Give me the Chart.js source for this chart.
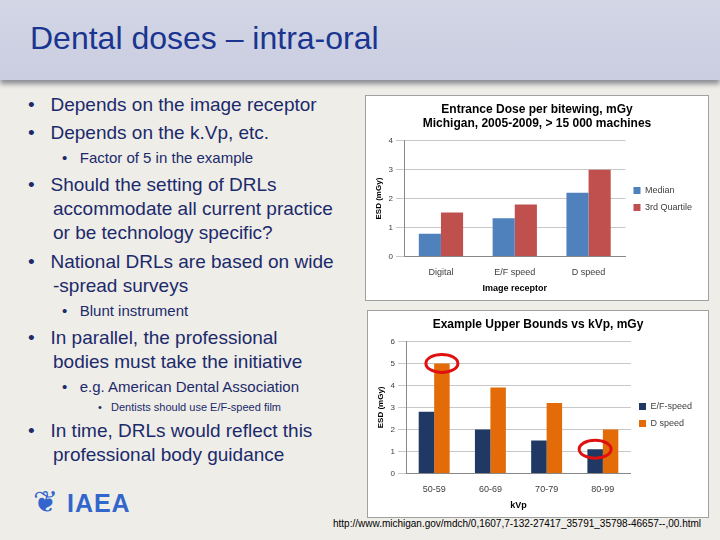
<!DOCTYPE html>
<html>
<head>
<meta charset="utf-8">
<script src="https://cdn.jsdelivr.net/npm/chart.js@4"></script>
<style>
body { margin:0; width:720px; height:540px; overflow:hidden; background:#efede8; font-family:"Liberation Sans", Arial, sans-serif; position:relative; }
#header { position:absolute; left:0; top:0; width:720px; height:80px; background:linear-gradient(#d3d6e5, #c9cde0); box-shadow:0 4px 5px #8a8c94; }
#title { position:absolute; left:30px; top:20px; font-size:32px; color:#1a3590; }
.t { position:absolute; color:#1b2a6b; white-space:nowrap; }
.l1 { font-size:19px; left:53px; }
.l2 { font-size:15px; left:84px; }
.l3 { font-size:11px; left:115px; }
.box { position:absolute; background:#fff; border:1px solid #a0a0a0; }
#logo { position:absolute; left:33px; top:484px; font-size:25px; font-weight:bold; color:#3366cc; letter-spacing:1px; }
#url { position:absolute; left:333px; top:518px; font-size:10px; color:#000; }
</style>
</head>
<body>
<div id="header"></div>
<div id="title">Dental doses – intra-oral</div>

<div class="t l1" style="top:94px;left:28px">•&nbsp;&nbsp;&nbsp;Depends on the image receptor</div>
<div class="t l1" style="top:122px;left:28px">•&nbsp;&nbsp;&nbsp;Depends on the k.Vp, etc.</div>
<div class="t l2" style="top:149px;left:62px">•&nbsp;&nbsp;&nbsp;Factor of 5 in the example</div>
<div class="t l1" style="top:174px;left:28px">•&nbsp;&nbsp;&nbsp;Should the setting of DRLs</div>
<div class="t l1" style="top:198px">accommodate all current practice</div>
<div class="t l1" style="top:222px">or be technology specific?</div>
<div class="t l1" style="top:251px;left:28px">•&nbsp;&nbsp;&nbsp;National DRLs are based on wide</div>
<div class="t l1" style="top:275px">-spread surveys</div>
<div class="t l2" style="top:302px;left:62px">•&nbsp;&nbsp;&nbsp;Blunt instrument</div>
<div class="t l1" style="top:327px;left:28px">•&nbsp;&nbsp;&nbsp;In parallel, the professional</div>
<div class="t l1" style="top:351px">bodies must take the initiative</div>
<div class="t l2" style="top:378px;left:62px">•&nbsp;&nbsp;&nbsp;e.g. American Dental Association</div>
<div class="t l3" style="top:401px;left:98px">•&nbsp;&nbsp;&nbsp;Dentists should use E/F-speed film</div>
<div class="t l1" style="top:420px;left:28px">•&nbsp;&nbsp;&nbsp;In time, DRLs would reflect this</div>
<div class="t l1" style="top:444px">professional body guidance</div>

<div id="logo"><span style="font-size:30px;font-weight:normal">❦</span> IAEA</div>
<div id="url">http://www.michigan.gov/mdch/0,1607,7-132-27417_35791_35798-46657--,00.html</div>

<div class="box" style="left:365px;top:95px;width:342px;height:204px"><canvas id="c1"></canvas></div>
<div class="box" style="left:367px;top:310px;width:340px;height:206px"><canvas id="c2"></canvas></div>

<script>
// Chart 1: entrance dose per bitewing
const receptors = ['Digital', 'E/F speed', 'D speed'];
const medianDose = [0.78, 1.32, 2.2];
const thirdQuartile = [1.52, 1.8, 3.0];

// Chart 2: upper bounds vs kVp
const kvpRanges = ['50-59', '60-69', '70-79', '80-99'];
const efSpeed = [2.8, 2.0, 1.5, 1.1];
const dSpeed = [5.0, 3.9, 3.2, 2.0];

Chart.defaults.font.family = '"Liberation Sans", Arial, sans-serif';
Chart.defaults.color = '#404040';
Chart.defaults.animation = false;

function baseOptions(title, xTitle, yMax) {
    return {
        responsive: true,
        maintainAspectRatio: false,
        layout: { padding: { left: 6, right: 6, top: 6, bottom: 4 } },
        plugins: {
            title: { display: true, text: title, color: '#000', font: { size: 12, weight: 'bold' }, padding: { bottom: 10 } },
            legend: { position: 'right', labels: { boxWidth: 7, boxHeight: 7, font: { size: 9 }, padding: 8 } }
        },
        scales: {
            x: { grid: { display: false }, border: { color: '#888' }, ticks: { font: { size: 9 } },
                 title: { display: true, text: xTitle, color: '#000', font: { size: 9, weight: 'bold' }, padding: 2 } },
            y: { min: 0, max: yMax, ticks: { stepSize: 1, font: { size: 8 } }, grid: { color: '#c8c8c8' }, border: { color: '#888' },
                 title: { display: true, text: 'ESD (mGy)', color: '#000', font: { size: 8, weight: 'bold' }, padding: 2 } }
        }
    };
}

new Chart(document.getElementById('c1'), {
    type: 'bar',
    data: {
        labels: receptors,
        datasets: [
            { label: 'Median', data: medianDose, backgroundColor: '#4f81bd' },
            { label: '3rd Quartile', data: thirdQuartile, backgroundColor: '#c0504d' }
        ]
    },
    options: Object.assign(baseOptions(['Entrance Dose per bitewing, mGy', 'Michigan, 2005-2009, > 15 000 machines'], 'Image receptor', 4),
        { datasets: { bar: { categoryPercentage: 0.6, barPercentage: 1 } } })
});

// red rings around the extreme bars
const ringPlugin = {
    id: 'rings',
    afterDatasetsDraw(chart) {
        const ctx = chart.ctx;
        const rings = [[1, 0], [0, 3]];
        ctx.save();
        ctx.strokeStyle = '#e01010';
        ctx.lineWidth = 3;
        rings.forEach(([ds, i]) => {
            const bar = chart.getDatasetMeta(ds).data[i];
            ctx.beginPath();
            ctx.ellipse(bar.x, bar.y, 16, 9, 0, 0, Math.PI * 2);
            ctx.stroke();
        });
        ctx.restore();
    }
};

new Chart(document.getElementById('c2'), {
    type: 'bar',
    data: {
        labels: kvpRanges,
        datasets: [
            { label: 'E/F-speed', data: efSpeed, backgroundColor: '#1f3864' },
            { label: 'D speed', data: dSpeed, backgroundColor: '#e36c09' }
        ]
    },
    options: Object.assign(baseOptions('Example Upper Bounds vs kVp, mGy', 'kVp', 6),
        { datasets: { bar: { categoryPercentage: 0.55, barPercentage: 1 } } }),
    plugins: [ringPlugin]
});
</script>
</body>
</html>
